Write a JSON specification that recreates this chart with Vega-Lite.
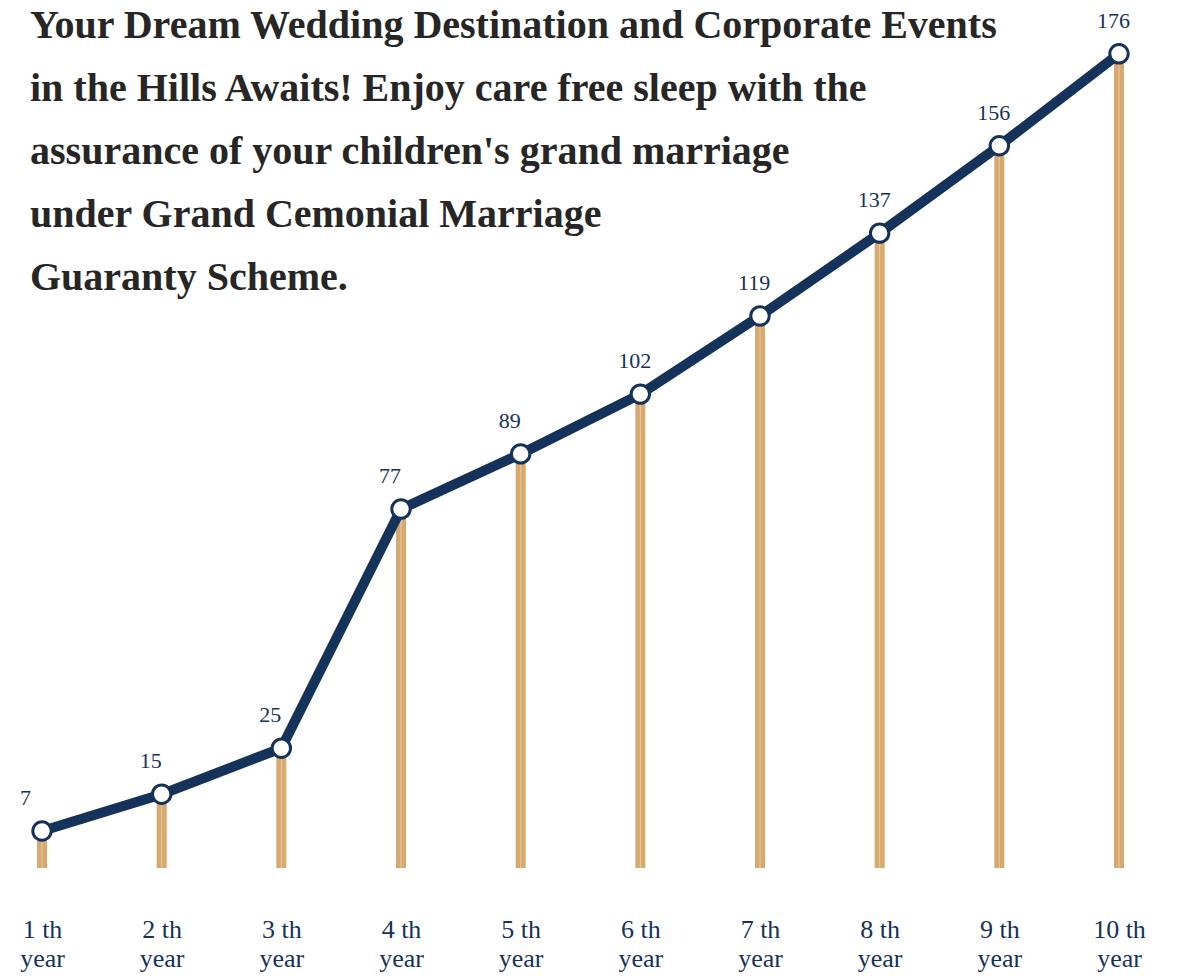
{
  "$schema": "https://vega.github.io/schema/vega-lite/v6.json",
  "width": 1178,
  "height": 868,
  "autosize": {"type": "none"},
  "padding": {"left": 0, "top": 0, "right": 0, "bottom": 111},
  "background": "white",
  "config": {"view": {"stroke": null}},
  "title": {
    "text": ["Your Dream Wedding Destination and Corporate Events", "in the Hills Awaits! Enjoy care free sleep with the", "assurance of your children's grand marriage", "under Grand Cemonial Marriage", "Guaranty Scheme."],
    "orient": "top",
    "anchor": "start",
    "frame": "group",
    "baseline": "top",
    "offset": 0,
    "dx": 30,
    "dy": 298,
    "font": "Liberation Serif",
    "fontSize": 40,
    "fontWeight": "bold",
    "color": "#262626",
    "lineHeight": 63
  },
  "data": {
    "values": [
      {"year": 1, "value": 7},
      {"year": 2, "value": 15},
      {"year": 3, "value": 25},
      {"year": 4, "value": 77},
      {"year": 5, "value": 89},
      {"year": 6, "value": 102},
      {"year": 7, "value": 119},
      {"year": 8, "value": 137},
      {"year": 9, "value": 156},
      {"year": 10, "value": 176}
    ]
  },
  "encoding": {
    "x": {
      "field": "year",
      "type": "ordinal",
      "sort": null,
      "scale": {"type": "point", "range": [42, 1119], "padding": 0},
      "axis": {
        "title": null,
        "domain": false,
        "ticks": false,
        "grid": false,
        "labelAngle": 0,
        "labelExpr": "[datum.label + ' th', '\u2002\u2009year']",
        "labelFont": "Liberation Serif",
        "labelFontSize": 26,
        "labelColor": "#15325b",
        "labelLineHeight": 29,
        "labelPadding": 48,
        "labelBaseline": "top"
      }
    },
    "y": {
      "field": "value",
      "type": "quantitative",
      "scale": {"domain": [-1.05, 187.7], "nice": false, "zero": false},
      "axis": null
    }
  },
  "layer": [
    {
      "mark": {"type": "rule", "color": "#d8a96f", "strokeWidth": 10},
      "encoding": {"y2": {"datum": -1.05}}
    },
    {
      "mark": {"type": "rule", "color": "#e8c99c", "strokeWidth": 1},
      "encoding": {"y2": {"datum": -1.05}}
    },
    {
      "mark": {"type": "line", "color": "#15325b", "strokeWidth": 10}
    },
    {
      "mark": {"type": "point", "shape": "circle", "filled": true, "fill": "white", "stroke": "#15325b", "strokeWidth": 3, "size": 340, "opacity": 1}
    },
    {
      "mark": {"type": "text", "font": "Liberation Serif", "fontSize": 22, "color": "#15325b", "align": "left", "baseline": "alphabetic", "dy": -26, "dx": -22},
      "encoding": {"text": {"field": "value", "type": "quantitative"}}
    }
  ]
}
